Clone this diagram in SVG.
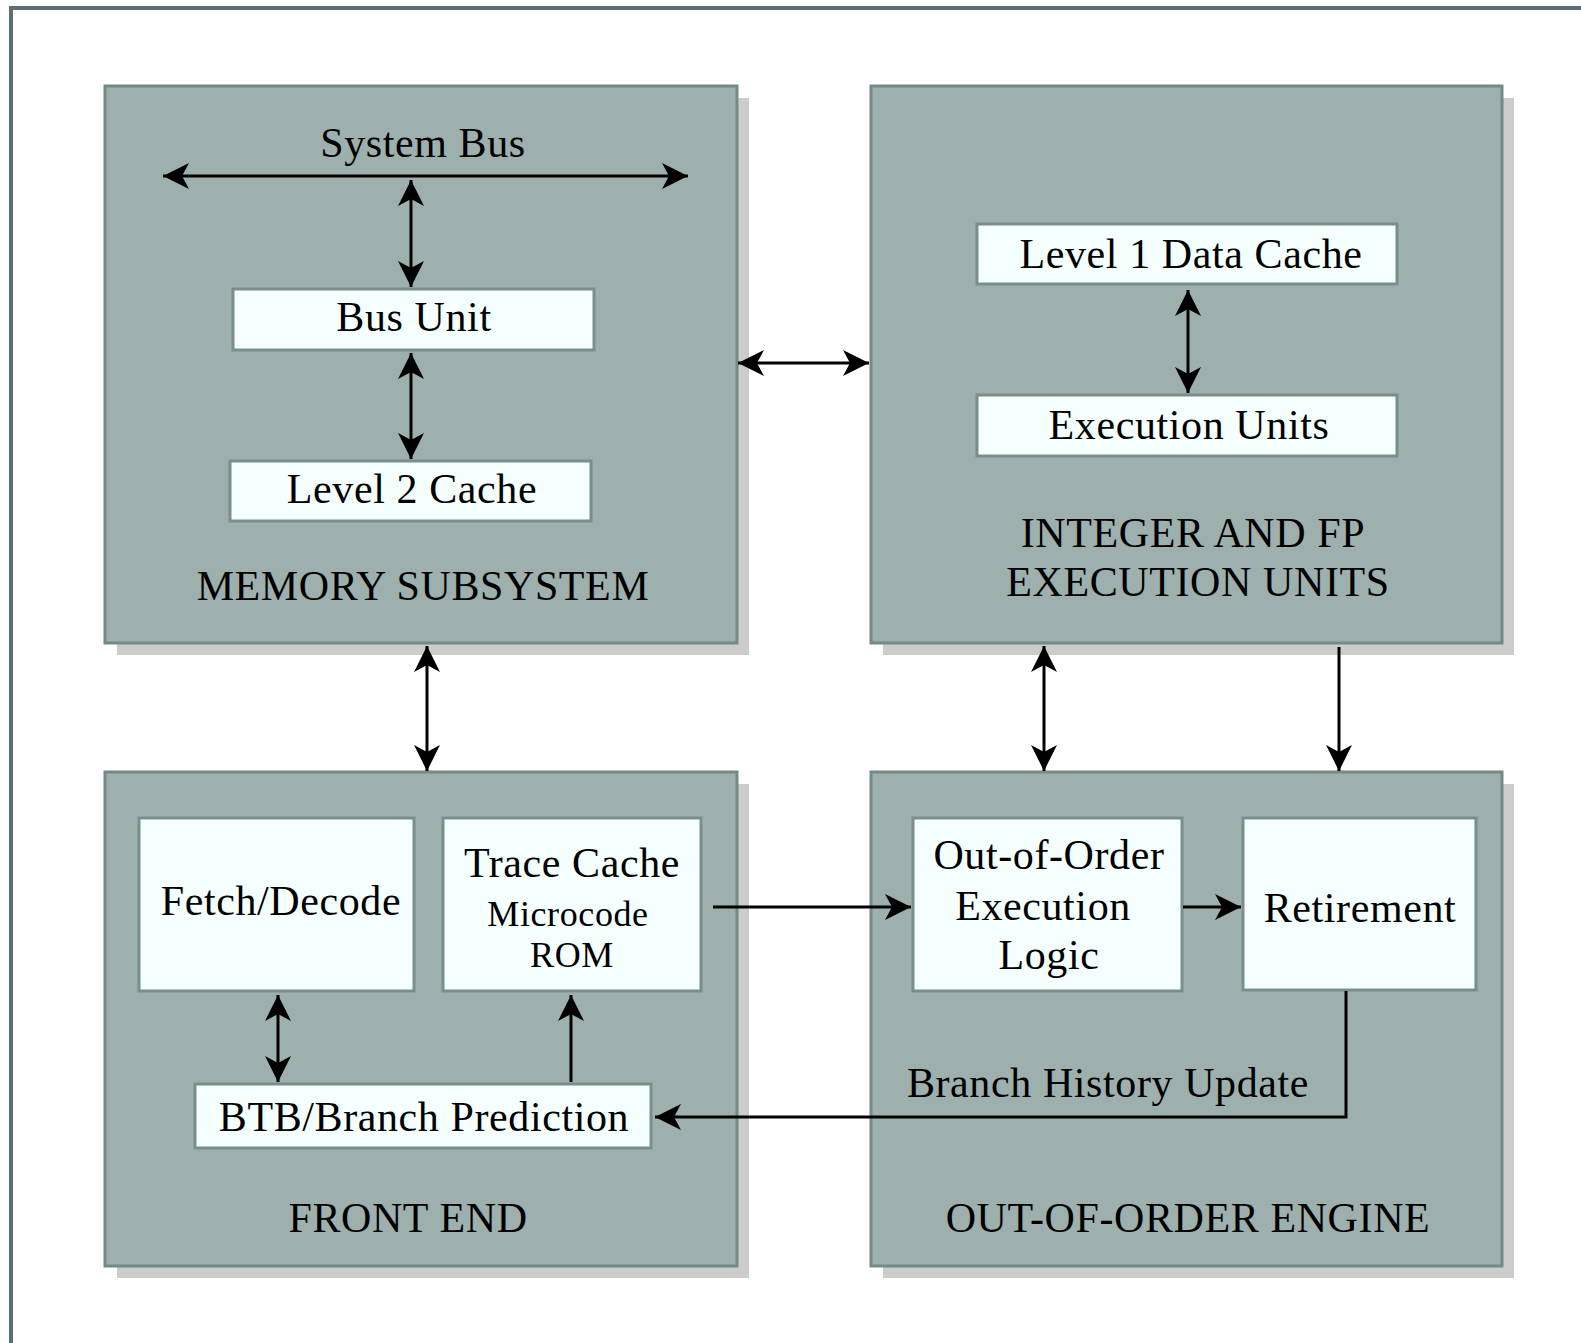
<svg xmlns="http://www.w3.org/2000/svg" width="1581" height="1343" viewBox="0 0 1581 1343">
<defs>
<marker id="ah" markerUnits="userSpaceOnUse" markerWidth="30" markerHeight="30" viewBox="-28 -15 30 30" refX="0" refY="0" orient="auto-start-reverse">
<path d="M0,0 L-26,-13 L-19,0 L-26,13 Z" fill="#000"/>
</marker>
</defs>
<style>
.grp{fill:#9db0ad;stroke:#738a87;stroke-width:3}
.sh{fill:#cccccc}
.box{fill:#f4fffe;stroke:#7a8e8b;stroke-width:3}
text{font-family:"Liberation Serif","Times New Roman",serif;font-size:42px;fill:#000;text-anchor:middle;letter-spacing:0.6px}
.sm{font-size:36px}
.c{fill:none;stroke:#000;stroke-width:3}
</style>
<rect width="1581" height="1343" fill="#fff"/>
<rect x="11" y="8" width="1620" height="1400" fill="none" stroke="#5f6e73" stroke-width="4"/>

<g id="memory-subsystem">
<rect class="sh" x="117" y="98" width="632" height="557"/>
<rect class="grp" x="105" y="86" width="632" height="557"/>
<text x="423" y="157">System Bus</text>
<text x="423" y="600">MEMORY SUBSYSTEM</text>
</g>
<g id="bus-unit"><rect class="box" x="233" y="289" width="361" height="61"/><text x="414" y="331">Bus Unit</text></g>
<g id="level2-cache"><rect class="box" x="230" y="461" width="361" height="60"/><text x="412" y="503">Level 2 Cache</text></g>

<g id="integer-fp">
<rect class="sh" x="883" y="98" width="631" height="557"/>
<rect class="grp" x="871" y="86" width="631" height="557"/>
<text x="1193" y="547">INTEGER AND FP</text>
<text x="1198" y="596">EXECUTION UNITS</text>
</g>
<g id="l1-data-cache"><rect class="box" x="977" y="224" width="420" height="60"/><text x="1191" y="268">Level 1 Data Cache</text></g>
<g id="execution-units"><rect class="box" x="977" y="395" width="420" height="61"/><text x="1189" y="439">Execution Units</text></g>

<g id="front-end">
<rect class="sh" x="117" y="784" width="632" height="494"/>
<rect class="grp" x="105" y="772" width="632" height="494"/>
<text x="408" y="1232">FRONT END</text>
</g>
<g id="fetch-decode"><rect class="box" x="139" y="818" width="275" height="173"/><text x="281" y="915">Fetch/Decode</text></g>
<g id="trace-cache"><rect class="box" x="443" y="818" width="258" height="173"/><text x="572" y="877">Trace Cache</text><text class="sm" x="568" y="926">Microcode</text><text class="sm" x="572" y="967">ROM</text></g>
<g id="btb"><rect class="box" x="195" y="1084" width="456" height="64"/><text x="424" y="1131">BTB/Branch Prediction</text></g>

<g id="ooo-engine">
<rect class="sh" x="883" y="784" width="631" height="494"/>
<rect class="grp" x="871" y="772" width="631" height="494"/>
<text x="1188" y="1232">OUT-OF-ORDER ENGINE</text>
<text x="1108" y="1097">Branch History Update</text>
</g>
<g id="ooo-logic"><rect class="box" x="913" y="818" width="269" height="173"/><text x="1049" y="869">Out-of-Order</text><text x="1043" y="920">Execution</text><text x="1049" y="969">Logic</text></g>
<g id="retirement"><rect class="box" x="1243" y="818" width="233" height="172"/><text x="1360" y="922">Retirement</text></g>

<g id="connectors">
<line class="c" x1="163" y1="176" x2="688" y2="176" marker-start="url(#ah)" marker-end="url(#ah)"/>
<line class="c" x1="411" y1="180" x2="411" y2="287" marker-start="url(#ah)" marker-end="url(#ah)"/>
<line class="c" x1="411" y1="353" x2="411" y2="459" marker-start="url(#ah)" marker-end="url(#ah)"/>
<line class="c" x1="1188" y1="290" x2="1188" y2="393" marker-start="url(#ah)" marker-end="url(#ah)"/>
<line class="c" x1="738" y1="363" x2="869" y2="363" marker-start="url(#ah)" marker-end="url(#ah)"/>
<line class="c" x1="427" y1="646" x2="427" y2="771" marker-start="url(#ah)" marker-end="url(#ah)"/>
<line class="c" x1="1044" y1="646" x2="1044" y2="771" marker-start="url(#ah)" marker-end="url(#ah)"/>
<line class="c" x1="1339" y1="647" x2="1339" y2="771" marker-end="url(#ah)"/>
<line class="c" x1="713" y1="907" x2="911" y2="907" marker-end="url(#ah)"/>
<line class="c" x1="1183" y1="907" x2="1241" y2="907" marker-end="url(#ah)"/>
<line class="c" x1="278" y1="995" x2="278" y2="1082" marker-start="url(#ah)" marker-end="url(#ah)"/>
<line class="c" x1="571" y1="1082" x2="571" y2="995" marker-end="url(#ah)"/>
<polyline class="c" points="1346,991 1346,1117 655,1117" marker-end="url(#ah)"/>
</g>
</svg>
